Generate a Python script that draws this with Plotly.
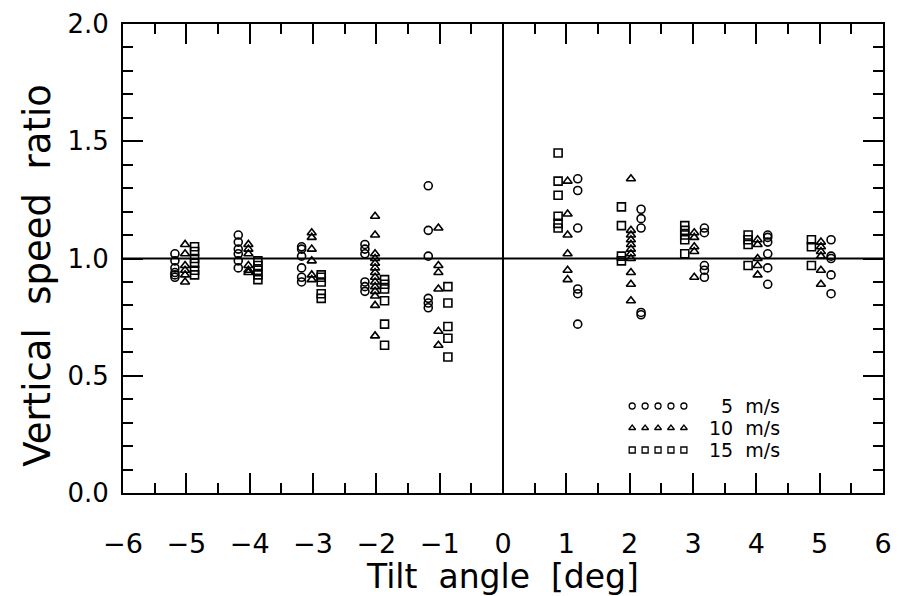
import plotly.graph_objects as go

# Tilt angles (deg) of the measurement groups
tilts = [-5, -4, -3, -2, -1, 1, 2, 3, 4, 5]

# Vertical speed ratio per tilt angle, one list per wind speed
ratio_5ms = [
    [1.02, 0.99, 0.96, 0.94, 0.93, 0.92],
    [1.10, 1.07, 1.04, 1.02, 0.99, 0.96],
    [1.05, 1.04, 1.01, 0.96, 0.92, 0.90],
    [1.06, 1.04, 1.02, 0.90, 0.88, 0.86],
    [1.31, 1.12, 1.01, 0.83, 0.81, 0.79],
    [1.34, 1.29, 1.13, 0.87, 0.85, 0.72],
    [1.21, 1.17, 1.13, 0.77, 0.76],
    [1.13, 1.11, 0.97, 0.95, 0.92],
    [1.10, 1.09, 1.07, 1.02, 0.96, 0.89],
    [1.08, 1.01, 1.00, 0.93, 0.85],
]
ratio_10ms = [
    [1.06, 1.02, 0.97, 0.95, 0.93, 0.90],
    [1.06, 1.04, 1.02, 0.97, 0.95, 0.94],
    [1.11, 1.09, 1.04, 0.99, 0.93, 0.91],
    [1.18, 1.10, 1.02, 1.00, 0.98, 0.96, 0.94, 0.92, 0.90, 0.88, 0.86, 0.84, 0.80, 0.67],
    [1.13, 0.97, 0.94, 0.87, 0.69, 0.63],
    [1.33, 1.19, 1.10, 1.02, 0.95, 0.91],
    [1.34, 1.12, 1.10, 1.08, 1.06, 1.04, 1.02, 1.00, 0.94, 0.89, 0.82],
    [1.11, 1.09, 1.05, 1.03, 0.92],
    [1.08, 1.06, 1.00, 0.97, 0.93],
    [1.07, 1.05, 1.03, 1.01, 0.95, 0.89],
]
ratio_15ms = [
    [1.05, 1.03, 1.00, 0.98, 0.95, 0.93],
    [0.99, 0.97, 0.95, 0.93, 0.91],
    [0.93, 0.92, 0.90, 0.85, 0.83],
    [0.91, 0.89, 0.87, 0.82, 0.72, 0.63],
    [0.88, 0.81, 0.71, 0.66, 0.58],
    [1.45, 1.33, 1.27, 1.18, 1.15, 1.13],
    [1.22, 1.14, 1.01, 0.99],
    [1.14, 1.12, 1.10, 1.08, 1.02],
    [1.10, 1.08, 1.06, 0.97],
    [1.08, 1.05, 0.97],
]

series_labels = ["5\u00a0\u00a0m/s", "10\u00a0\u00a0m/s", "15\u00a0\u00a0m/s"]
series_symbols = ["circle-open", "triangle-up-open", "square-open"]
# small horizontal shift (outward from zero) so the groups do not overlap
series_shift = [0.18, 0.02, -0.13]

FONT = "DejaVu Sans"

fig = go.Figure()

for vals, sym, shift in zip([ratio_5ms, ratio_10ms, ratio_15ms], series_symbols, series_shift):
    xs, ys = [], []
    for t, group in zip(tilts, vals):
        sgn = 1 if t > 0 else -1
        for v in group:
            xs.append(t + sgn * shift)
            ys.append(v)
    fig.add_trace(go.Scatter(
        x=xs, y=ys, mode="markers",
        marker=dict(symbol=sym, size=8, color="black", line=dict(width=1.6, color="black")),
        showlegend=False, xaxis="x", yaxis="y",
    ))

# hand-made legend in an overlay axis spanning the plot area (0..1)
legend_rows_y = [0.1855, 0.1386, 0.0917]
legend_cols_x = [0.670, 0.687, 0.704, 0.721, 0.738]
for sym, ry, lab in zip(series_symbols, legend_rows_y, series_labels):
    fig.add_trace(go.Scatter(
        x=legend_cols_x, y=[ry] * len(legend_cols_x), mode="markers",
        marker=dict(symbol=sym, size=6, color="black", line=dict(width=1.3, color="black")),
        showlegend=False, xaxis="x2", yaxis="y2", hoverinfo="skip",
    ))
    fig.add_annotation(
        x=0.867, y=ry, xref="x2", yref="y2", text=lab, showarrow=False,
        xanchor="right", yanchor="middle",
        font=dict(family=FONT, size=19, color="black"),
    )

# y-axis title as a rotated annotation (sits slightly below the plot centre, as in the original)
fig.add_annotation(
    x=-0.112, y=0.465, xref="paper", yref="paper",
    text="Vertical\u00a0\u00a0speed\u00a0\u00a0ratio", textangle=-90, showarrow=False,
    xanchor="center", yanchor="middle",
    font=dict(family=FONT, size=37, color="black"),
)

axis_common = dict(
    showgrid=False, zeroline=False, showline=True, linecolor="black", linewidth=2,
    mirror="allticks", ticks="inside", tickcolor="black", tickwidth=1.5,
    automargin=False, ticklabeloverflow="allow",
)

fig.update_layout(
    # the page body adds an 8px offset, so the figure is sized to fill the rest of the window
    width=891, height=588,
    margin=dict(l=115, r=16, t=16, b=103),
    paper_bgcolor="white", plot_bgcolor="white",
    xaxis=dict(
        range=[-6, 6], dtick=1, tick0=0, ticklen=20,
        minor=dict(dtick=0.5, ticks="inside", ticklen=10, tickcolor="black", tickwidth=1.5, showgrid=False),
        title=dict(text="Tilt\u00a0\u00a0angle\u00a0\u00a0[deg]", font=dict(family=FONT, size=33, color="black"), standoff=3),
        tickfont=dict(family=FONT, size=27, color="black"),
        ticklabelstandoff=26,
        **axis_common,
    ),
    yaxis=dict(
        range=[0, 2], dtick=0.5, tick0=0, ticklen=20, tickformat=".1f",
        minor=dict(dtick=0.1, ticks="inside", ticklen=10, tickcolor="black", tickwidth=1.5, showgrid=False),
        tickfont=dict(family=FONT, size=26, color="black"),
        ticklabelstandoff=7,
        **axis_common,
    ),
    xaxis2=dict(range=[0, 1], overlaying="x", visible=False, fixedrange=True),
    yaxis2=dict(range=[0, 1], overlaying="y", visible=False, fixedrange=True),
    shapes=[
        dict(type="line", xref="x", yref="paper", x0=0, x1=0, y0=0, y1=1, line=dict(color="black", width=2)),
        dict(type="line", xref="paper", yref="y", x0=0, x1=1, y0=1, y1=1, line=dict(color="black", width=2)),
    ],
)

fig.write_html("out.html")
